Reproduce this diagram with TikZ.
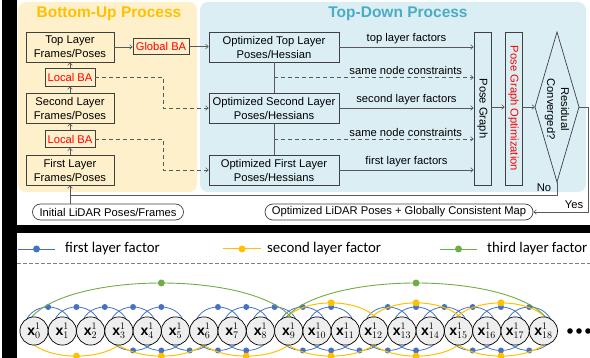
\documentclass[tikz,border=0pt]{standalone}
\usepackage{fontspec}
\setmainfont{Liberation Sans}
\newfontfamily\legendfont{Carlito}
\usetikzlibrary{arrows.meta,calc}

\definecolor{buBg}{HTML}{FFF0CC}
\definecolor{tdBg}{HTML}{DAEEF3}
\definecolor{buTitle}{HTML}{FFC000}
\definecolor{tdTitle}{HTML}{4BACC6}
\definecolor{lineGray}{HTML}{595959}
\definecolor{boxLine}{HTML}{404040}
\definecolor{fBlue}{HTML}{4472C4}
\definecolor{fYellow}{HTML}{FFC000}
\definecolor{fGreen}{HTML}{70AD47}
\definecolor{nodeFill}{HTML}{EEEEEE}
\definecolor{redText}{HTML}{FF0000}

\begin{document}
\begin{tikzpicture}[x=1pt,y=-1pt,
  txt/.style={font=\fontsize{11.2}{14}\selectfont, inner sep=0pt, align=center},
  box/.style={txt, draw=boxLine, line width=0.7pt},
  pill/.style={box, rounded corners=8pt, minimum height=16pt},
  conn/.style={draw=lineGray, line width=0.6pt, -{Straight Barb[length=2.6pt,width=4.6pt]}},
  plain/.style={draw=lineGray, line width=0.6pt},
  dsh/.style={dash pattern=on 4pt off 3pt},
  lbl/.style={txt, anchor=south, inner sep=2.5pt},
  title/.style={font=\fontsize{15.5}{16}\bfseries, inner sep=0pt},
  legtext/.style={font=\legendfont\fontsize{14.8}{15}\selectfont, inner sep=0pt, anchor=west},
  xnode/.style={circle, draw=black, line width=0.7pt, fill=nodeFill, minimum size=28.2pt, inner sep=0pt,
    font=\fontsize{14}{14}\selectfont},
  bdot/.style={circle, fill=fBlue, inner sep=0pt, minimum size=6pt},
  ydot/.style={circle, fill=fYellow, inner sep=0pt, minimum size=7pt},
  gdot/.style={circle, fill=fGreen, inner sep=0pt, minimum size=7pt},
  bline/.style={draw=fBlue, line width=0.8pt},
  yline/.style={draw=fYellow, line width=1pt},
  gline/.style={draw=fGreen, line width=0.9pt},
]
\useasboundingbox (0,0) rectangle (590,358);
\clip (0,0) rectangle (590,358);

% frame
\fill[black] (2,0) rectangle (17,358);
\fill[black] (2,225) rectangle (590,233);

% ---------- process panels ----------
\fill[buBg] (18,2) [rounded corners=8pt] rectangle (197,192);
\fill[tdBg] (200,2) [rounded corners=8pt] rectangle (586,192);
\node[title, text=buTitle] (tBU) at (109,14) {Bottom-Up Process};
\node[title, text=tdTitle] (tTD) at (398,14) {Top-Down Process};

% bottom-up column
\node[box, minimum width=88pt, minimum height=30pt] (TL) at (70,47) {Top Layer\\Frames/Poses};
\node[box, minimum width=50pt, minimum height=18pt, text=redText] (LBA2) at (70,77) {Local BA};
\node[box, minimum width=88pt, minimum height=30pt] (SL) at (70,108) {Second Layer\\Frames/Poses};
\node[box, minimum width=50pt, minimum height=17pt, text=redText] (LBA1) at (70,139) {Local BA};
\node[box, minimum width=88pt, minimum height=30pt] (FL) at (70,170) {First Layer\\Frames/Poses};
\node[box, minimum width=56pt, minimum height=16pt, text=redText] (GBA) at (161,46.5) {Global BA};
\node[pill, minimum width=151pt] (Init) at (108,212) {Initial LiDAR Poses/Frames};

% top-down column
\node[box, minimum width=130pt, minimum height=30pt] (OT) at (274,47) {Optimized Top Layer\\Poses/Hessian};
\node[box, minimum width=130pt, minimum height=30pt] (OS) at (274,108) {Optimized Second Layer\\Poses/Hessians};
\node[box, minimum width=130pt, minimum height=30pt] (OF) at (274,170) {Optimized First Layer\\Poses/Hessians};

\node[box, minimum width=17pt, minimum height=153pt] (PG) at (482.5,108.5) {};
\node[txt, rotate=-90] (PGt) at (PG.center) {Pose Graph};
\node[box, minimum width=17pt, minimum height=153pt] (PGO) at (513.5,108.5) {};
\node[txt, rotate=-90, text=redText] (PGOt) at (PGO.center) {Pose Graph Optimization};

% convergence test
\coordinate (DmN) at (557,32);
\coordinate (DmE) at (579,107);
\coordinate (DmS) at (557,182);
\coordinate (DmW) at (535,107);
\draw[boxLine, line width=0.7pt] (DmN) -- (DmE) -- (DmS) -- (DmW) -- cycle;
\node[txt, rotate=-90] (DmT) at (557,109) {Residual\\Converged?};

\node[pill, minimum width=268pt] (Opt) at (399,212) {Optimized LiDAR Poses + Globally Consistent Map};

% bottom-up flow
\draw[conn] (FL.north) -- (LBA1.south);
\draw[conn] (LBA1.north) -- (SL.south);
\draw[conn] (SL.north) -- (LBA2.south);
\draw[conn] (LBA2.north) -- (TL.south);
\draw[conn] (TL.east) -- (GBA.west |- TL.east);
\draw[conn] (GBA.east) -- (GBA.east -| OT.west);
\coordinate (dk) at (163,0);
\draw[conn, dsh] (LBA2.east) -- (LBA2.east -| dk) |- (OS.west);
\draw[conn, dsh] (LBA1.east) -- (LBA1.east -| dk) |- (OF.west);
\draw[conn] (Init.north -| FL.south) -- (FL.south);

% top-down flow
\draw[plain] (OT.south) -- (OS.north);
\draw[plain] (OS.south) -- (OF.north);
\coordinate (sn1) at ($(OT.south)!0.5!(OS.north)$);
\coordinate (sn2) at ($(OS.south)!0.5!(OF.north)$);
\draw[conn] (OT.east) -- node[lbl] (l1) {top layer factors} (OT.east -| PG.west);
\draw[conn, dsh] (sn1) -- node[lbl, pos=0.66] (l2) {same node constraints} (sn1 -| PG.west);
\draw[conn] (OS.east) -- node[lbl] (l3) {second layer factors} (OS.east -| PG.west);
\draw[conn, dsh] (sn2) -- node[lbl, pos=0.66] (l4) {same node constraints} (sn2 -| PG.west);
\draw[conn] (OF.east) -- node[lbl] (l5) {first layer factors} (OF.east -| PG.west);
\draw[conn] (PG.east |- DmW) -- (PGO.west |- DmW);
\draw[conn] (PGO.east |- DmW) -- (DmW);

% loop back / exit
\coordinate (noY) at (0,195);
\coordinate (yesX) at (588,0);
\draw[plain] (DmS) -- (DmS |- noY) -- (FL.south |- noY);
\node[txt] (noL) at (544,187.5) {No};
\draw[conn] (DmE) -- (DmE -| yesX) -- (yesX |- Opt.east) -- (Opt.east);
\node[txt] (yesL) at (574,205) {Yes};

% ---------- factor graph ----------
% legend
\coordinate (lb1) at (18,249); \coordinate (lb2) at (55,249);
\draw[bline] (lb1) -- node[bdot, minimum size=7pt] (lbd) {} (lb2);
\node[legtext] (lbt) at (65,249) {first layer factor};
\coordinate (ly1) at (223,249); \coordinate (ly2) at (261,249);
\draw[yline] (ly1) -- node[ydot] (lyd) {} (ly2);
\node[legtext] (lyt) at (267,249) {second layer factor};
\coordinate (lg1) at (440,249); \coordinate (lg2) at (477,249);
\draw[gline] (lg1) -- node[gdot] (lgd) {} (lg2);
\node[legtext] (lgt) at (487,249) {third layer factor};
\coordinate (sepL) at (17,263); \coordinate (sepR) at (590,263);
\draw[gray, line width=0.6pt, dash pattern=on 3.5pt off 2.5pt] (sepL) -- (sepR);

% node positions
\foreach \i in {0,...,18} \coordinate (p\i) at ({34+28.3*\i},331);

% first layer factors (arcs reach a little past both node centres)
\foreach \i in {0,1,2,3,4,6,7,8,9,10,12,13,14,15,16,17} {
  \pgfmathtruncatemacro\j{\i+1}
  \draw[bline] ($(p\i)+(-10,0)$) .. controls +(0,-32) and +(0,-32) .. node[bdot] (bu\i) {} ($(p\j)+(10,0)$);
}
\foreach \i in {3,4,5,6,7,9,10,11,12,13,15,16,17} {
  \pgfmathtruncatemacro\j{\i+1}
  \draw[bline] ($(p\i)+(-10,0)$) .. controls +(0,26) and +(0,26) .. node[bdot] (bl\i) {} ($(p\j)+(10,0)$);
}
% second layer factors
\foreach \i in {9,12,15} {
  \pgfmathtruncatemacro\j{\i+3}
  \draw[yline] ($(p\i)+(-10,0)$) .. controls +(8,-37.5) and +(-8,-37.5) .. node[ydot] (yu\i) {} ($(p\j)+(10,0)$);
}
\foreach \i in {0,3,6,9,12,15} {
  \pgfmathtruncatemacro\j{\i+3}
  \draw[yline] ($(p\i)+(-10,0)$) .. controls +(8,33.5) and +(-8,33.5) .. node[ydot] (yl\i) {} ($(p\j)+(10,0)$);
}
% third layer factors
\foreach \i in {0,9} {
  \pgfmathtruncatemacro\j{\i+9}
  \draw[gline] ($(p\i)+(-10,0)$) .. controls +(15,-64) and +(-15,-64) .. node[gdot] (gu\i) {} ($(p\j)+(10,0)$);
}
% pose nodes
\foreach \i in {0,...,18} \node[xnode] (x\i) at (p\i) {$\mathbf{x}^{1}_{\i}$};
\foreach \k/\xx in {1/570,2/579,3/588} \fill (\xx,331) circle (2.8pt);
\end{tikzpicture}
\end{document}
